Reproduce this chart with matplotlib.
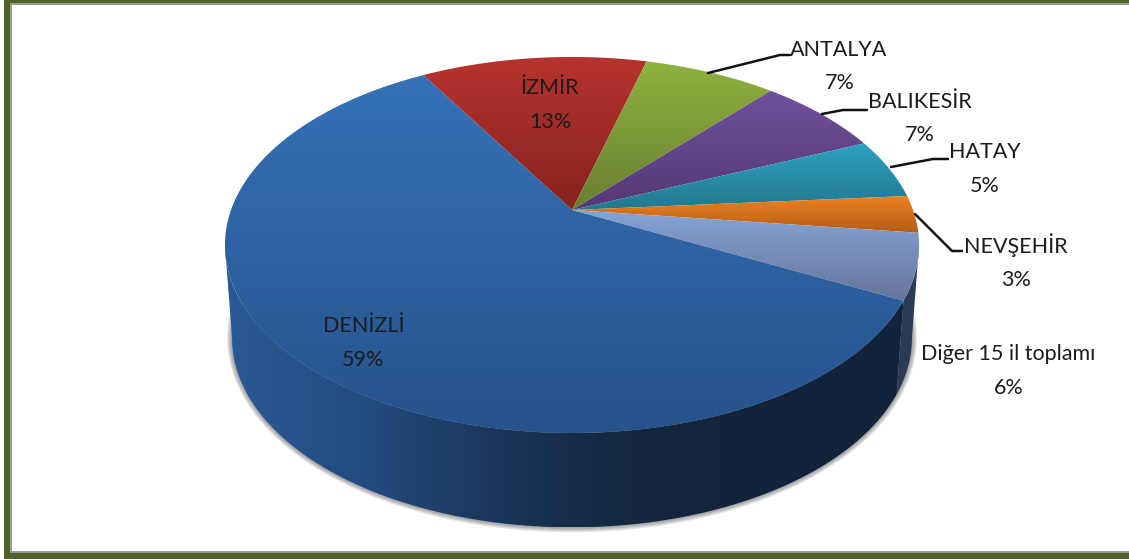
import numpy as np
import matplotlib
matplotlib.use("Agg")
import matplotlib.pyplot as plt
from matplotlib.colors import LinearSegmentedColormap
from matplotlib.patches import Polygon, Rectangle

plt.rcParams["font.family"] = ["Lato", "Noto Sans", "DejaVu Sans"]

# values estimated from the slice edges, clockwise from the Denizli/Izmir edge
names = ["İZMİR", "ANTALYA", "BALIKESİR", "HATAY", "NEVŞEHİR", "Diğer 15 il toplamı", "DENİZLİ"]
percents = [12.6, 7.4, 7.0, 5.2, 3.2, 5.6, 59.0]
# top and bottom colour of each slice's face
top_colors = ["#b7332f", "#8fb23f", "#71519b", "#2ea2c2", "#ee8122", "#86a3d6", "#3671b7"]
bottom_colors = ["#86231f", "#697f30", "#543877", "#23788f", "#b35d17", "#66759a", "#26538d"]
wall_stops = ["#2a5a96", "#234c80", "#1b3659", "#13273f", "#12243c", "#12243c"]

# label text positions in pixels (name line, percent line)
label_name_xy = [(550, 88), (839, 50), (920, 102), (985, 152), (1016, 245), (1008, 354), (364, 326)]
label_pct_xy = [(550, 122), (840, 83), (920, 135), (985, 186), (1016, 280), (1009, 388), (363, 360)]
leaders = [
    [(708, 73), (780, 55), (790, 55)],
    [(822, 114), (843, 110), (867, 110)],
    [(891, 167), (933, 159), (948, 159)],
    [(915, 214), (952, 251), (962, 251)],
]

W, H = 1129, 559
START_DEG = 120.4
CX = 572
TILT = 0.186
# projection of the top disc and the bottom disc: apex y, x scale, y scale
TOP = (210, 341, 181.5)
BOT = (303, 334, 182.6)
SIDE_DEG = 10.7  # where the rim is widest, seen from the top


def project(deg, disc):
    apex, ax_, by = disc
    t = np.radians(deg)
    w = 1 + TILT * np.sin(t)
    return CX + ax_ * np.cos(t) / w, apex - by * np.sin(t) / w


def rim(a, b, disc, n=200):
    x, y = project(np.linspace(a, b, n), disc)
    return np.column_stack([x, y])


def gradient(ax, verts, colors, horizontal=False, zorder=2):
    cmap = LinearSegmentedColormap.from_list("g", colors)
    lo, hi = verts.min(axis=0), verts.max(axis=0)
    ramp = np.linspace(0, 1, 256)
    img = ramp[None, :] if horizontal else ramp[:, None]
    im = ax.imshow(img, cmap=cmap, extent=(lo[0], hi[0], hi[1], lo[1]),
                   aspect="auto", origin="upper", zorder=zorder, interpolation="bilinear")
    patch = Polygon(verts, closed=True, transform=ax.transData, fc="none", ec="none")
    ax.add_patch(patch)
    im.set_clip_path(patch)


fig = plt.figure(figsize=(W / 100, H / 100), dpi=100, facecolor="white")
ax = fig.add_axes([0, 0, 1, 1])
ax.set_xlim(0, W)
ax.set_ylim(H, 0)
ax.axis("off")

# frame
ax.add_patch(Rectangle((4, 0), W - 4, H, fc="#4f6228", ec="none", zorder=0))
ax.add_patch(Rectangle((10, 3), W - 10, 550, fc="#9a9a9a", ec="none", zorder=0.1))
ax.add_patch(Rectangle((12, 5), W - 12, 546, fc="white", ec="none", zorder=0.2))

edges = START_DEG - np.cumsum([0] + percents) * 3.6
left_side = -180 + SIDE_DEG
right_side = -SIDE_DEG

# soft shadow, only round the lower edge of the wall
shadow = rim(left_side - 10, right_side + 10, BOT)
centre = np.array([CX, 338.0])
for grow in [5, 4, 3, 2, 1]:
    scale = np.array([1 + grow / 340, 1 + grow / 190])
    pts = centre + (shadow - centre) * scale
    ax.add_patch(Polygon(pts, fc="#505050", ec="none", alpha=0.13, zorder=1))

# side wall: Denizli takes most of it, the last slice shows at the far right
den_end = edges[-2]  # Diger/Denizli edge
wall = np.vstack([rim(den_end, left_side, BOT), rim(left_side, den_end, TOP)])
gradient(ax, wall, wall_stops, horizontal=True, zorder=2)
side = np.vstack([rim(den_end, right_side, TOP), rim(right_side, den_end, BOT)])
ax.add_patch(Polygon(side, fc="#2b3a55", ec="none", zorder=2.1))

# top face
for i, name in enumerate(names):
    apex_pt = np.array([[CX, TOP[0]]])
    verts = np.vstack([apex_pt, rim(edges[i], edges[i + 1], TOP, 300)])
    gradient(ax, verts, [top_colors[i], bottom_colors[i]], zorder=3)

for pts in leaders:
    xs, ys = zip(*pts)
    ax.plot(xs, ys, color="#111111", lw=1.8, zorder=4, solid_capstyle="round")

for i, name in enumerate(names):
    ax.text(*label_name_xy[i], name, fontsize=15.5, color="#1c1c1c", ha="center", va="center", zorder=5)
    ax.text(*label_pct_xy[i], f"{round(percents[i])}%", fontsize=15.5, color="#1c1c1c", ha="center", va="center", zorder=5)

fig.savefig("out.png", dpi=100, facecolor="white")
